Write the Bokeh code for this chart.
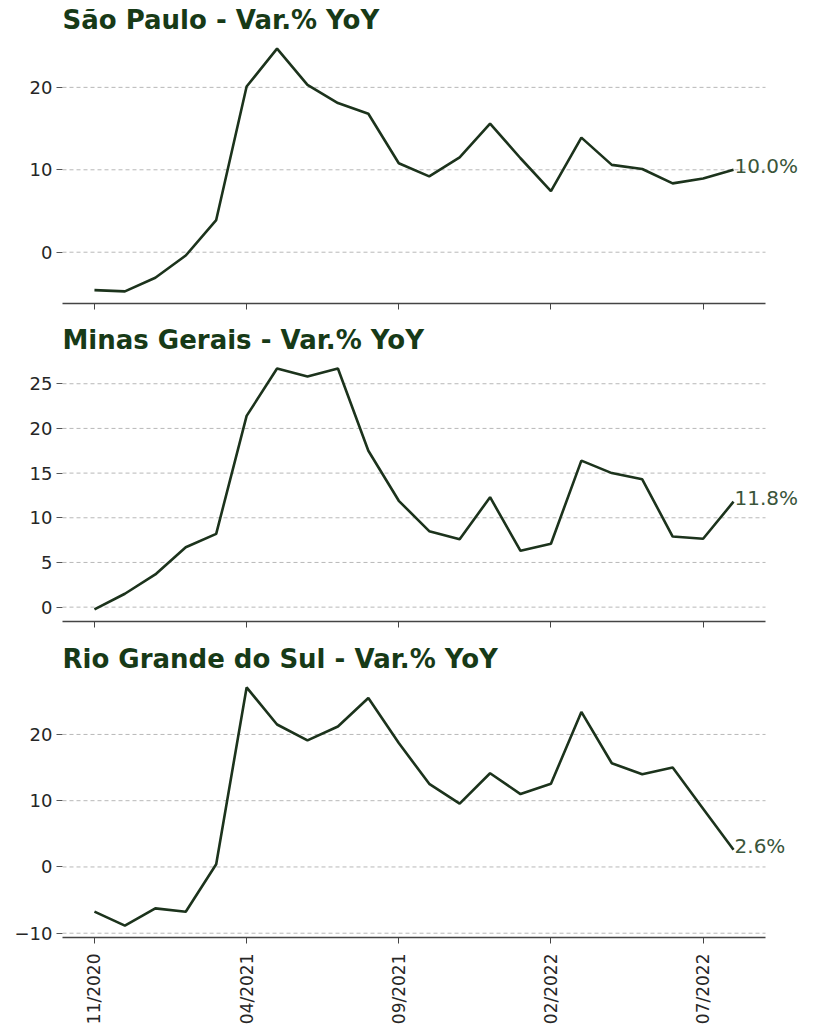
import math
from bokeh.plotting import figure
from bokeh.layouts import column
from bokeh.models import FixedTicker, Range1d, Label, CustomJSTickFormatter
from bokeh.embed import file_html
from bokeh.resources import INLINE

months = ["11/2020", "12/2020", "01/2021", "02/2021", "03/2021", "04/2021",
          "05/2021", "06/2021", "07/2021", "08/2021", "09/2021", "10/2021",
          "11/2021", "12/2021", "01/2022", "02/2022", "03/2022", "04/2022",
          "05/2022", "06/2022", "07/2022", "08/2022"]

sao_paulo = [-4.6, -4.75, -3.1, -0.4, 3.9, 20.1, 24.7, 20.3, 18.1, 16.8, 10.8,
             9.2, 11.5, 15.6, 11.4, 7.4, 13.9, 10.6, 10.1, 8.35, 8.95, 10.0]
minas_gerais = [-0.26, 1.5, 3.66, 6.7, 8.2, 21.4, 26.7, 25.8, 26.7, 17.5, 11.9,
                8.5, 7.6, 12.3, 6.3, 7.1, 16.4, 15.0, 14.3, 7.9, 7.65, 11.8]
rio_grande = [-6.75, -8.85, -6.25, -6.75, 0.4, 27.1, 21.5, 19.1, 21.2, 25.5, 18.7,
              12.55, 9.55, 14.15, 11.0, 12.55, 23.4, 15.65, 14.0, 15.0, 8.8, 2.6]

titles = ["São Paulo - Var.% YoY", "Minas Gerais - Var.% YoY",
          "Rio Grande do Sul - Var.% YoY"]
series = [sao_paulo, minas_gerais, rio_grande]
y_ticks = [[0, 10, 20], [0, 5, 10, 15, 20, 25], [-10, 0, 10, 20]]
x_tick_idx = [0, 5, 10, 15, 20]

LINE = "#1c331c"
TITLE = "#173a17"
ANNOT = "#3a553a"
FONT = "DejaVu Sans"

W = 799
BORDER_LEFT = 62
heights = [313, 318, 396]
borders_top = [35, 43, 44]
borders_bottom = [10, 10, 86]
PLOT_W_REF = 703.0   # width of the data area (axis extent) in px

x = list(range(len(months)))
figs = []
for i, (ttl, ys) in enumerate(zip(titles, series)):
    lo, hi = min(ys), max(ys)
    m = (hi - lo) * 0.05
    n = len(ys)
    xm = (n - 1) * 0.05
    x0, x1 = -xm, n - 1 + xm
    px_per = PLOT_W_REF / (x1 - x0)
    frame_w = W - BORDER_LEFT
    x_end = x0 + frame_w / px_per
    p = figure(width=W, height=heights[i], output_backend="svg",
               toolbar_location=None,
               x_range=Range1d(x0, x_end),
               y_range=Range1d(lo - m, hi + m),
               min_border_left=BORDER_LEFT, min_border_right=0,
               min_border_top=borders_top[i], min_border_bottom=borders_bottom[i])
    p.title.text = ttl
    p.title.text_font = FONT
    p.title.text_font_size = "26px"
    p.title.text_font_style = "bold"
    p.title.text_color = TITLE
    p.title.standoff = 4
    p.title.offset = 0
    p.outline_line_color = None
    p.background_fill_color = "white"
    p.border_fill_color = "white"

    # dashed horizontal grid lines limited to the axis extent
    p.xgrid.grid_line_color = None
    p.ygrid.grid_line_color = None
    yt = y_ticks[i]
    p.segment(x0=[x0] * len(yt), x1=[x1] * len(yt), y0=yt, y1=yt,
              line_color="#b8b8b8", line_dash="4 3", line_width=1,
              level="underlay")

    p.line(x, ys, line_color=LINE, line_width=2.6)

    ya = p.yaxis[0]
    ya.ticker = FixedTicker(ticks=yt)
    ya.axis_line_color = None
    ya.major_tick_line_color = "#555555"
    ya.major_tick_out = 6
    ya.major_tick_in = 0
    ya.minor_tick_line_color = None
    ya.major_label_text_font = FONT
    ya.major_label_text_font_size = "18px"
    ya.major_label_text_color = "#262626"
    ya.major_label_standoff = 4
    ya.formatter = CustomJSTickFormatter(
        code="return (tick < 0 ? '\u2212' + Math.abs(tick) : '' + tick);")

    xa = p.xaxis[0]
    xa.ticker = FixedTicker(ticks=x_tick_idx)
    xa.bounds = (x0, x1)
    xa.axis_line_color = "#444444"
    xa.axis_line_width = 1.6
    xa.major_tick_line_color = "#444444"
    xa.major_tick_out = 6
    xa.major_tick_in = 0
    xa.minor_tick_line_color = None
    xa.major_label_text_font = FONT
    xa.major_label_text_color = "#262626"
    if i < 2:
        xa.formatter = CustomJSTickFormatter(code="return '';")
        xa.major_label_text_font_size = "1px"
        xa.major_label_standoff = 0
    else:
        xa.major_label_overrides = {k: months[k] for k in x_tick_idx}
        xa.major_label_text_font_size = "17px"
        xa.major_label_orientation = math.pi / 2
        xa.major_label_standoff = 10

    last = ys[-1]
    p.add_layout(Label(x=n - 1, y=last, text=f"{last:.1f}%",
                       text_font=FONT, text_font_size="20px",
                       text_color=ANNOT, text_baseline="bottom",
                       text_align="left", x_offset=1, y_offset=-8))
    figs.append(p)

layout = column(*figs, spacing=0)
open("out.html", "w").write(file_html(layout, INLINE))
